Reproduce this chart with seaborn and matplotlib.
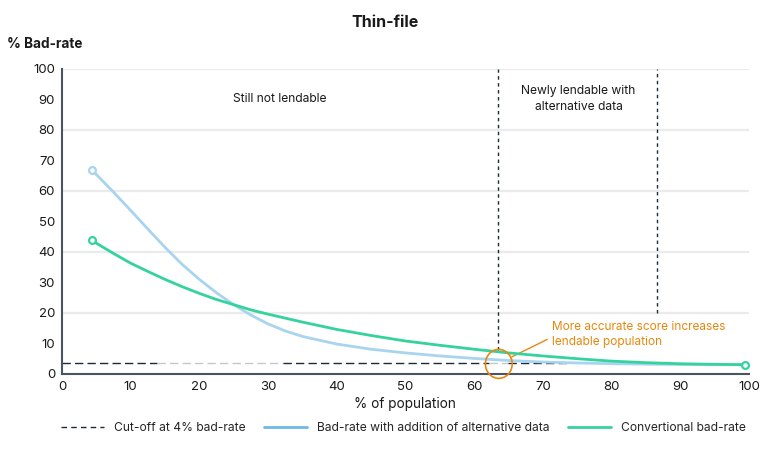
import numpy as np
import pandas as pd
import seaborn as sns
import matplotlib.pyplot as plt
from matplotlib.lines import Line2D
from matplotlib.patches import Ellipse

# values
population = [4.3, 7.5, 10, 12.5, 15, 17.5, 20, 22.5, 25, 27.5, 30, 32.5, 35,
              40, 45, 50, 55, 60, 65, 70, 75, 80, 85, 90, 95, 99.5]
alt_bad_rate = [67, 59.6, 53.6, 47.5, 41.5, 35.9, 31.0, 26.6, 22.7, 19.3, 16.4, 14.1, 12.3,
                9.8, 8.1, 6.9, 5.9, 5.1, 4.4, 3.9, 3.6, 3.35, 3.2, 3.1, 3.05, 3.0]
conv_bad_rate = [43.8, 39.5, 36.3, 33.6, 31.0, 28.6, 26.4, 24.4, 22.7, 21.0, 19.6, 18.3, 17.0,
                 14.6, 12.6, 10.8, 9.4, 8.1, 6.9, 5.9, 5.0, 4.2, 3.7, 3.35, 3.15, 3.05]

cutoff = 3.5
cutoff_segments = [(0, 13.8, "dark"), (13.8, 32.2, "light"), (32.2, 62.2, "dark"),
                   (62.2, 65.0, "light"), (65.0, 73.6, "dark")]
zone_bounds = [(63.5, 8), (86.7, 20)]   # x position, lower end of vertical line
zone_labels = [(31.7, 90, "Still not lendable"), (75.2, 90, "Newly lendable with\nalternative data")]
note_point = (63.6, 3.3)
note_text = "More accurate score increases\nlendable population"

BLUE = "#a8d4f0"
BLUE_LEG = "#6cb8e6"
GREEN = "#35d39c"
NAVY = "#1e2a3a"
ORANGE = "#e8870e"
TXT = "#1a1a1a"

sns.set_theme(style="white")
plt.rcParams["font.family"] = ["Inter", "DejaVu Sans"]

df = pd.DataFrame({"population": population, "alt": alt_bad_rate, "conv": conv_bad_rate})

fig = plt.figure(figsize=(7.7, 4.5), dpi=100)
ax = fig.add_axes([0.0805, 0.169, 0.892, 0.678])

for y in range(20, 101, 20):
    ax.axhline(y, color="#ebebeb", lw=1.6, zorder=0)

sns.lineplot(data=df, x="population", y="alt", ax=ax, color=BLUE, lw=2, zorder=3)
sns.lineplot(data=df, x="population", y="conv", ax=ax, color=GREEN, lw=2, zorder=4)

# hollow end markers
ax.scatter(df["population"].iloc[[0]], df["alt"].iloc[[0]], s=24, facecolor="white",
           edgecolor=BLUE, linewidth=1.6, zorder=5, clip_on=False)
ax.scatter(df["population"].iloc[[0, -1]], df["conv"].iloc[[0, -1]], s=24, facecolor="white",
           edgecolor=GREEN, linewidth=1.6, zorder=5, clip_on=False)

for x0, x1, tone in cutoff_segments:
    col = NAVY if tone == "dark" else "#c4c7cc"
    ax.plot([x0, x1], [cutoff, cutoff], color=col, lw=1, dashes=(6, 3), zorder=2)

for x, y0 in zone_bounds:
    ax.plot([x, x], [y0, 100], color=NAVY, lw=1, dashes=(2.5, 2.5), zorder=2)

for x, y, t in zone_labels:
    ax.text(x, y, t, ha="center", va="center", fontsize=8.7, color=TXT, linespacing=1.45)

ax.add_patch(Ellipse(note_point, 3.9, 9.5, fill=False, edgecolor=ORANGE, lw=1.2,
                     zorder=6, clip_on=False))
ax.annotate(note_text, xy=(65.5, 5.6), xytext=(71.3, 12.95), ha="left", va="center",
            fontsize=8.5, color=ORANGE, linespacing=1.4,
            arrowprops=dict(arrowstyle="-", color=ORANGE, lw=1, relpos=(0, 0.4),
                            shrinkA=1, shrinkB=0))

ax.set_xlim(0, 100)
ax.set_ylim(0, 100)
ax.set_xticks(range(0, 101, 10))
ax.set_yticks(range(0, 101, 10))
ax.tick_params(axis="both", length=0, labelsize=9.5, colors=TXT, pad=5)
for side in ["top", "right"]:
    ax.spines[side].set_visible(False)
for side in ["left", "bottom"]:
    ax.spines[side].set_color("#4a5563")
    ax.spines[side].set_linewidth(1.5)

ax.set_xlabel("% of population", fontsize=9.8, color=TXT, labelpad=3)
ax.set_ylabel("")
fig.text(0.009, 0.903, "% Bad-rate", fontsize=9.8, fontweight="bold", color=TXT,
         ha="left", va="center")
fig.text(0.5, 0.951, "Thin-file", fontsize=11.5, fontweight="bold", color=TXT,
         ha="center", va="center")

handles = [
    Line2D([0], [0], color=NAVY, lw=1, dashes=(4, 3)),
    Line2D([0], [0], color=BLUE_LEG, lw=2),
    Line2D([0], [0], color=GREEN, lw=2),
]
labels = ["Cut-off at 4% bad-rate", "Bad-rate with addition of alternative data", "Convertional bad-rate"]
fig.legend(handles, labels, loc="center left", bbox_to_anchor=(0.079, 0.049), ncol=3,
           frameon=False, fontsize=8.7, handlelength=3.6, columnspacing=1.5,
           handletextpad=0.8, borderpad=0, borderaxespad=0)

fig.savefig("out.png", dpi=100)
